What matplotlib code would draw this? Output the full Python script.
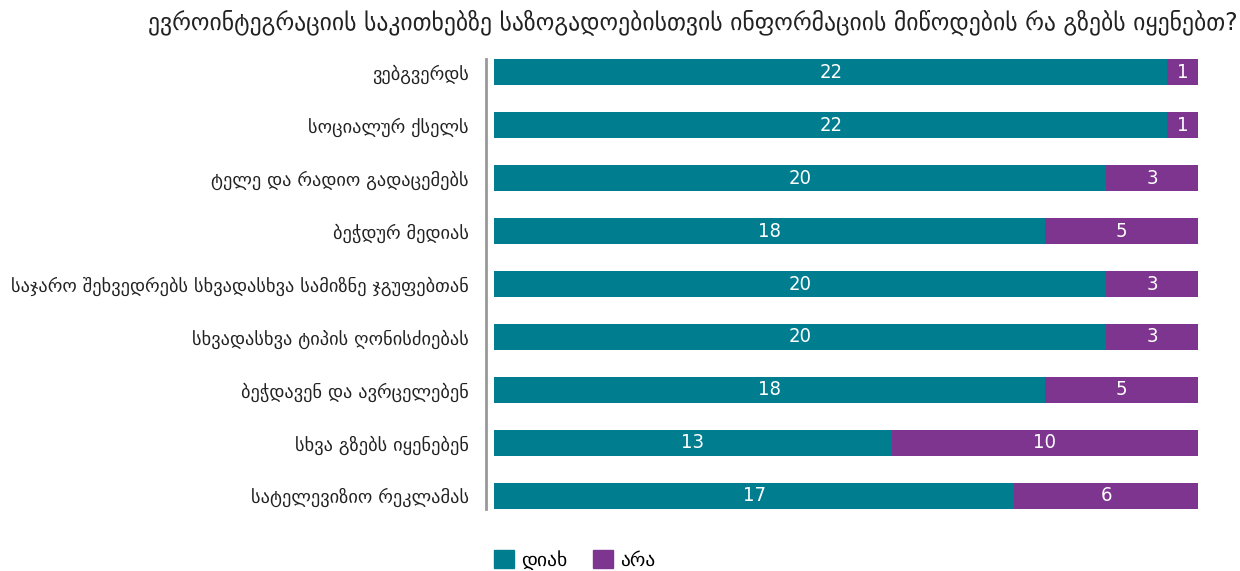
import matplotlib
matplotlib.use("Agg")
import matplotlib.pyplot as plt
import matplotlib.patches as mpatches
import numpy as np

plt.rcParams['font.family'] = ['DejaVu Sans', 'Noto Sans']

title = "ევროინტეგრაციის საკითხებზე საზოგადოებისთვის ინფორმაციის მიწოდების რა გზებს იყენებთ?"
categories = [
    "ვებგვერდს",
    "სოციალურ ქსელს",
    "ტელე და რადიო გადაცემებს",
    "ბეჭდურ მედიას",
    "საჯარო შეხვედრებს სხვადასხვა სამიზნე ჯგუფებთან",
    "სხვადასხვა ტიპის ღონისძიებას",
    "ბეჭდავენ და ავრცელებენ",
    "სხვა გზებს იყენებენ",
    "სატელევიზიო რეკლამას",
]
yes_vals = [22, 22, 20, 18, 20, 20, 18, 13, 17]
no_vals = [1, 1, 3, 5, 3, 3, 5, 10, 6]
series_names = ["დიახ", "არა"]

c_yes = "#007D8F"
c_no = "#7E3590"

fig = plt.figure(figsize=(12.4, 5.71), dpi=100)
ax = fig.add_axes([494 / 1240, 1 - 509 / 571, 704 / 1240, 450 / 571])

y = np.arange(len(categories))
ax.barh(y, yes_vals, height=0.5, color=c_yes)
ax.barh(y, no_vals, left=yes_vals, height=0.5, color=c_no)

for i, (a, b) in enumerate(zip(yes_vals, no_vals)):
    ax.text(a / 2, i, str(a), ha='center', va='center', color='white', fontsize=14.5, fontstretch='condensed')
    ax.text(a + b / 2, i, str(b), ha='center', va='center', color='white', fontsize=14.5, fontstretch='condensed')

ax.set_xlim(0, 23)
ax.set_ylim(8.25, -0.25)
ax.set_yticks(y)
ax.set_yticklabels(categories)
# labelsize goes here, tick_params resets the tick label fonts
ax.tick_params(axis='y', length=0, pad=12, labelsize=13.2, labelcolor='#222222')
ax.set_xticks([])
for s in ['top', 'right', 'bottom']:
    ax.spines[s].set_visible(False)
ax.spines['left'].set_position(('outward', 6))
ax.spines['left'].set_color('#999999')
ax.spines['left'].set_linewidth(2)

fig.text(0.998, 1 - 22 / 571, title, ha='right', va='center', fontsize=17, color='#222222')

handles = [mpatches.Patch(color=c_yes, label=series_names[0]),
           mpatches.Patch(color=c_no, label=series_names[1])]
fig.legend(handles=handles, loc='center left', bbox_to_anchor=(494 / 1240, 1 - 560 / 571),
           ncol=2, frameon=False, fontsize=14, handlelength=1.05, handleheight=1.05,
           columnspacing=1.3, handletextpad=0.35, borderpad=0, borderaxespad=0)

fig.savefig("out.png", dpi=100)
